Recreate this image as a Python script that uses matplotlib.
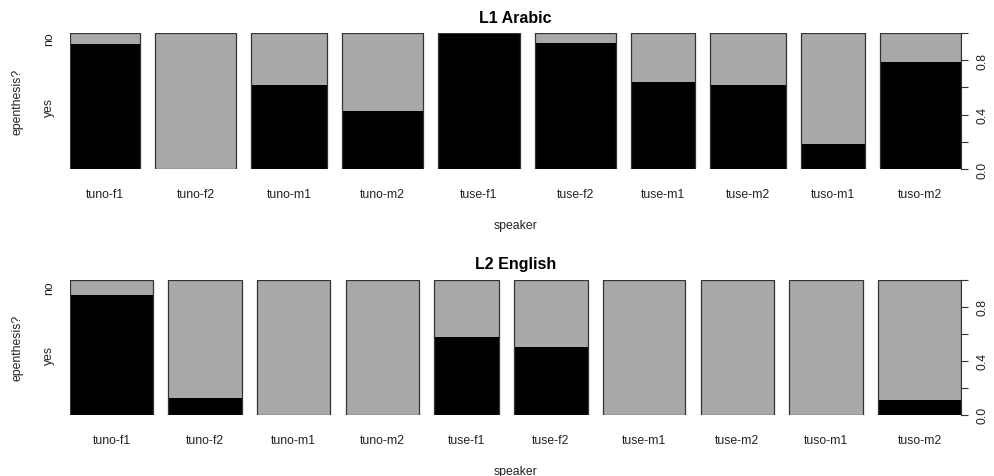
import matplotlib
matplotlib.use("Agg")
import matplotlib.pyplot as plt
import matplotlib.transforms as mtransforms
import numpy as np

# speaker x epenthesis counts (spineplot: width ~ total, height ~ share of "yes")
speakers = ["tuno-f1", "tuno-f2", "tuno-m1", "tuno-m2", "tuse-f1",
            "tuse-f2", "tuse-m1", "tuse-m2", "tuso-m1", "tuso-m2"]
l1_yes = [11, 0, 8, 6, 14, 13, 7, 8, 2, 11]
l1_no = [1, 14, 5, 8, 0, 1, 4, 5, 9, 3]
l2_yes = [8, 1, 0, 0, 4, 4, 0, 0, 0, 1]
l2_no = [1, 7, 8, 8, 3, 4, 9, 8, 8, 8]
titles = ["L1 Arabic", "L2 English"]
right_ticks = [0.0, 0.2, 0.4, 0.6, 0.8, 1.0]
right_labels = ["0.0", "", "0.4", "", "0.8", ""]

plt.rcParams["font.family"] = ["Liberation Sans", "DejaVu Sans"]

W, H = 995, 477
fig = plt.figure(figsize=(W / 100, H / 100), dpi=100)
fig.patch.set_facecolor("white")

YES_COL = "black"
NO_COL = "#a9a9a9"
EDGE = "#333333"
TXT = "#222222"
OFF = 0.02  # gap between bars, fraction of total


def px(x, y):
    return x / W, 1 - y / H


def spine_panel(top, bottom, yes, no, title, x0=70.0, x1=961.0):
    ax = fig.add_axes([x0 / W, 1 - bottom / H, (x1 - x0) / W, (bottom - top) / H])
    yes = np.asarray(yes, float)
    no = np.asarray(no, float)
    tot = yes + no
    widths = tot / tot.sum()
    lefts = np.concatenate([[0], np.cumsum(widths)[:-1]]) + OFF * np.arange(len(tot))
    frac = yes / tot
    ax.bar(lefts, frac, width=widths, align="edge", color=YES_COL,
           edgecolor="none", linewidth=0)
    ax.bar(lefts, 1 - frac, bottom=frac, width=widths, align="edge",
           color=NO_COL, edgecolor="none", linewidth=0)
    ax.bar(lefts, np.ones_like(frac), width=widths, align="edge",
           fill=False, edgecolor=EDGE, linewidth=0.9)
    ax.set_xlim(0, 1 + OFF * (len(tot) - 1))
    ax.set_ylim(0, 1)
    for s in ax.spines.values():
        s.set_visible(False)
    ax.set_xticks([])
    ax.set_yticks([])

    # speaker labels under bars
    trans_x = mtransforms.blended_transform_factory(ax.transData, fig.transFigure)
    for l, w, name in zip(lefts, widths, speakers):
        ax.text(l + w / 2, 1 - (bottom + 25) / H, name, transform=trans_x,
                ha="center", va="center", fontsize=8.8, color=TXT)
    # left labels at midpoints of first bar segments
    trans_y = mtransforms.blended_transform_factory(fig.transFigure, ax.transData)
    ax.text(49 / W, frac[0] / 2, "yes", transform=trans_y, rotation=90,
            ha="center", va="center", fontsize=8.8, color=TXT)
    ax.text(49 / W, (1 + frac[0]) / 2, "no", transform=trans_y, rotation=90,
            ha="center", va="center", fontsize=8.8, color=TXT)

    # right axis
    rax = ax.twinx()
    rax.set_ylim(0, 1)
    for k in ["top", "bottom", "left"]:
        rax.spines[k].set_visible(False)
    rax.spines["right"].set_bounds(0, 1)
    rax.spines["right"].set_color(EDGE)
    rax.spines["right"].set_linewidth(0.8)
    rax.set_yticks(right_ticks)
    rax.set_yticklabels(right_labels, rotation=90, va="center", fontsize=8.8, color=TXT)
    rax.tick_params(axis="y", length=5, width=0.8, color=EDGE, pad=6)

    ax.set_title(title, fontsize=11.5, fontweight="bold", pad=8)
    cx = (x0 + x1) / 2
    fig.text(*px(cx, bottom + 56), "speaker", ha="center", va="center",
             fontsize=8.8, color=TXT)
    fig.text(*px(18, (top + bottom) / 2), "epenthesis?", rotation=90,
             ha="center", va="center", fontsize=8.8, color=TXT)
    return ax


spine_panel(34, 170, l1_yes, l1_no, titles[0])
spine_panel(280.5, 415.7, l2_yes, l2_no, titles[1])

fig.savefig("out.png", dpi=100)
